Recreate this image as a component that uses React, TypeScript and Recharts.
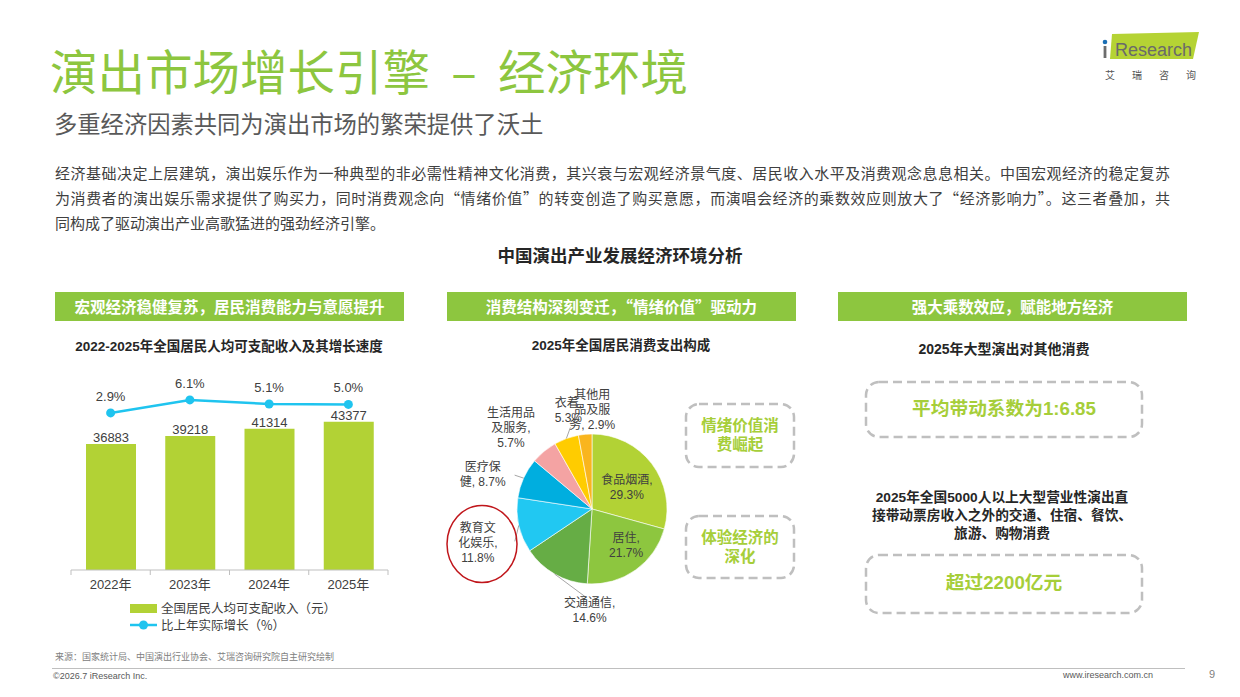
import React from 'react';
import { ComposedChart, Bar, Line, XAxis, YAxis, LabelList, PieChart, Pie, Cell } from 'recharts';

// left chart: per-capita disposable income and real growth
const YEARS = ['2022年', '2023年', '2024年', '2025年'];
const INCOME = [36883, 39218, 41314, 43377];
const GROWTH = [2.9, 6.1, 5.1, 5.0];

// middle chart: consumption spending structure 2025
const SPEND_CATS = ['食品烟酒', '居住', '交通通信', '教育文化娱乐', '医疗保健', '生活用品及服务', '衣着', '其他用品及服务'];
const SPEND_SHARE = [29.3, 21.7, 14.6, 11.8, 8.7, 5.7, 5.3, 2.9];
const SPEND_COLORS = ['#B2D235', '#8DC63F', '#66AD45', '#21C8F2', '#00AEDF', '#F4A3A3', '#FFCC00', '#F9B51E'];

const incomeData = YEARS.map((year, i) => ({ year, income: INCOME[i], growth: GROWTH[i] }));
const spendData = SPEND_CATS.map((name, i) => ({ name, value: SPEND_SHARE[i] }));

const CJK = '"Noto Sans CJK SC", sans-serif';
const MIX = '"Liberation Sans", Arial, "Noto Sans CJK SC", sans-serif';
const GREEN = '#8DC63F';
const LIME = '#A6CE39';
const TEXT = '#404040';

const BAR_CHART_W = 400;
const BAR_MARGIN = { top: 10, right: 42, bottom: 0, left: 41 };
const BAND = (BAR_CHART_W - BAR_MARGIN.left - BAR_MARGIN.right) / YEARS.length;

// label placement for the pie (offsets from the slice's outer edge)
const RAD = Math.PI / 180;
const PIE_LABELS: { r: number; dx: number; dy: number; breaks: number[]; lead?: number[] }[] = [
  { r: 0.55, dx: 2, dy: 3, breaks: [5] },
  { r: 0.6, dx: 8, dy: 0, breaks: [3] },
  { r: 1, dx: 35, dy: 36, breaks: [5], lead: [-4, -13] },
  { r: 1, dx: -41, dy: 18, breaks: [3, 7], lead: [37, -2] },
  { r: 1, dx: -41, dy: -4, breaks: [3], lead: [32, 1] },
  { r: 1, dx: -33, dy: -23, breaks: [4, 8] },
  { r: 1, dx: 2, dy: -28, breaks: [3], lead: [2, 17] },
  { r: 1, dx: 7, dy: -24, breaks: [3, 6] },
];

function renderPieLabel(props: any) {
  const { cx, cy, midAngle, outerRadius, index, name, value } = props;
  const cfg = PIE_LABELS[index];
  const ax = cx + outerRadius * cfg.r * Math.cos(-midAngle * RAD);
  const ay = cy + outerRadius * cfg.r * Math.sin(-midAngle * RAD);
  const lx = ax + cfg.dx;
  const ly = ay + cfg.dy;
  const full = `${name}, ${Number(value).toFixed(1)}%`;
  const cuts = [0, ...cfg.breaks, full.length];
  const lines = cuts.slice(0, -1).map((c, k) => full.slice(c, cuts[k + 1]).trim());
  const lh = 15;
  const top = ly - ((lines.length - 1) * lh) / 2;
  return (
    <g>
      {cfg.lead && (
        <line x1={ax} y1={ay} x2={lx + cfg.lead[0]} y2={ly + cfg.lead[1]} stroke="#A6A6A6" strokeWidth={1} />
      )}
      {lines.map((t, k) => (
        <text key={k} x={lx} y={top + k * lh} textAnchor="middle" dominantBaseline="central"
          fontSize={12} fill={TEXT} fontFamily={MIX}>{t}</text>
      ))}
    </g>
  );
}

function YearTick(props: any) {
  const { x, y, payload, index } = props;
  return (
    <g>
      <line x1={x - BAND / 2} y1={y} x2={x - BAND / 2} y2={y + 5} stroke="#BFBFBF" />
      {index === YEARS.length - 1 && <line x1={x + BAND / 2} y1={y} x2={x + BAND / 2} y2={y + 5} stroke="#BFBFBF" />}
      <text x={x} y={y + 19} textAnchor="middle" fontSize={13} fill={TEXT} fontFamily={MIX}>{payload.value}</text>
    </g>
  );
}

function at(left: number, top: number, extra: React.CSSProperties = {}): React.CSSProperties {
  return { position: 'absolute', left, top, whiteSpace: 'nowrap', ...extra };
}

function DashBox({ x, y, w, h }: { x: number; y: number; w: number; h: number }) {
  return (
    <svg style={{ position: 'absolute', left: x - 2, top: y - 2 }} width={w + 4} height={h + 4}>
      <rect x={2} y={2} width={w} height={h} rx={13} fill="none" stroke="#BFBFBF" strokeWidth={2.5} strokeDasharray="9 5" />
    </svg>
  );
}

function HeaderBar({ x, text }: { x: number; text: string }) {
  return (
    <div style={at(x, 292, { width: 349, height: 29, background: GREEN, color: '#fff', fontFamily: CJK, fontWeight: 700,
      fontSize: 15.5, lineHeight: '29px', textAlign: 'center' })}>{text}</div>
  );
}

const PARA = [
  '经济基础决定上层建筑，演出娱乐作为一种典型的非必需性精神文化消费，其兴衰与宏观经济景气度、居民收入水平及消费观念息息相关。中国宏观经济的稳定复苏',
  '为消费者的演出娱乐需求提供了购买力，同时消费观念向“情绪价值”的转变创造了购买意愿，而演唱会经济的乘数效应则放大了“经济影响力”。这三者叠加，共',
  '同构成了驱动演出产业高歌猛进的强劲经济引擎。',
];

export default function App() {
  return (
    <div style={{ position: 'absolute', left: 0, top: 0, width: 1240, height: 697, background: '#fff', overflow: 'hidden', fontFamily: CJK }}>
      {/* title block */}
      <div style={at(50, 44, { fontSize: 47.5, lineHeight: '52px', color: GREEN, fontFamily: CJK })}>
        演出市场增长引擎{'\u00a0\u00a0–\u00a0\u00a0'}经济环境
      </div>
      <div style={at(54, 109, { fontSize: 23.3, lineHeight: '28px', color: '#595959' })}>多重经济因素共同为演出市场的繁荣提供了沃土</div>

      {/* logo */}
      <svg style={{ position: 'absolute', left: 1095, top: 28 }} width={140} height={56}>
        <polygon points="17,6 104,4 98,31 15,31" fill="#B5D334" />
        <circle cx={10} cy={14} r={2.3} fill="#1B6FB5" />
        <rect x={8.6} y={18} width={2.8} height={12} fill="#6d6d6d" />
        <text x={20} y={28} fontSize={18} fill="#6a6a6a" fontFamily={MIX}>Research</text>
        <text x={10} y={51} fontSize={10} fill="#555" fontFamily={CJK} letterSpacing={17}>艾瑞咨询</text>
      </svg>

      {/* intro paragraph */}
      {PARA.map((line, i) => (
        <div key={i} style={at(55, 159.5 + i * 25, { width: 1115, fontSize: 15, lineHeight: '25px', color: TEXT,
          textAlign: 'justify', textAlignLast: i < 2 ? 'justify' : 'left' })}>{line}</div>
      ))}

      <div style={at(420, 243, { width: 400, textAlign: 'center', fontSize: 17.5, lineHeight: '24px', fontWeight: 700, color: '#262626' })}>
        中国演出产业发展经济环境分析
      </div>

      <HeaderBar x={55} text="宏观经济稳健复苏，居民消费能力与意愿提升" />
      <HeaderBar x={447} text="消费结构深刻变迁，“情绪价值”驱动力" />
      <HeaderBar x={838} text="强大乘数效应，赋能地方经济" />

      {/* left panel */}
      <div style={at(29, 337, { width: 400, textAlign: 'center', fontSize: 13.5, lineHeight: '20px', fontWeight: 700, color: '#262626', fontFamily: MIX })}>
        2022-2025年全国居民人均可支配收入及其增长速度
      </div>
      <div style={{ position: 'absolute', left: 30, top: 355 }}>
        <ComposedChart width={BAR_CHART_W} height={245} data={incomeData} margin={BAR_MARGIN}>
          <XAxis dataKey="year" height={30} tickLine={false} tickSize={0} tickMargin={0} stroke="#BFBFBF"
            tick={<YearTick />} interval={0} />
          <YAxis yAxisId="l" domain={[0, 60000]} hide />
          <YAxis yAxisId="r" orientation="right" domain={[-35.8, 14.7]} hide />
          <Bar yAxisId="l" dataKey="income" fill="#B2D235" barSize={50} isAnimationActive={false}>
            <LabelList dataKey="income" position="top" offset={2} fontSize={13} fill={TEXT} fontFamily={MIX} />
          </Bar>
          <Line yAxisId="r" dataKey="growth" stroke="#1FC4EF" strokeWidth={2.5} isAnimationActive={false}
            dot={{ r: 4.5, fill: '#1FC4EF', stroke: '#1FC4EF', strokeWidth: 0 }}>
            <LabelList dataKey="growth" position="top" offset={12} fontSize={13} fill={TEXT} fontFamily={MIX}
              formatter={(v: any) => `${Number(v).toFixed(1)}%`} />
          </Line>
        </ComposedChart>
      </div>
      {/* legend */}
      <svg style={{ position: 'absolute', left: 128, top: 600 }} width={32} height={32}>
        <rect x={2} y={4} width={27} height={9} fill="#B2D235" />
        <line x1={2} y1={25} x2={29} y2={25} stroke="#1FC4EF" strokeWidth={2.5} />
        <circle cx={15.5} cy={25} r={4.5} fill="#1FC4EF" />
      </svg>
      <div style={at(161, 599, { fontSize: 12.5, lineHeight: '18px', color: TEXT })}>全国居民人均可支配收入（元）</div>
      <div style={at(161, 616, { fontSize: 12.5, lineHeight: '18px', color: TEXT })}>比上年实际增长（%）</div>

      {/* middle panel */}
      <div style={at(421, 336, { width: 400, textAlign: 'center', fontSize: 13.5, lineHeight: '20px', fontWeight: 700, color: '#262626', fontFamily: MIX })}>
        2025年全国居民消费支出构成
      </div>
      <div style={{ position: 'absolute', left: 430, top: 380 }}>
        <PieChart width={250} height={250} margin={{ top: 0, right: 0, bottom: 0, left: 0 }}>
          <Pie data={spendData} dataKey="value" nameKey="name" cx={162} cy={129} outerRadius={75}
            startAngle={90} endAngle={-270} stroke="#fff" strokeWidth={0.6} label={renderPieLabel}
            labelLine={false} isAnimationActive={false}>
            {spendData.map((d, i) => <Cell key={d.name} fill={SPEND_COLORS[i]} />)}
          </Pie>
        </PieChart>
      </div>
      <svg style={{ position: 'absolute', left: 440, top: 500, pointerEvents: 'none' }} width={90} height={90}>
        <ellipse cx={42} cy={44} rx={35} ry={38.5} fill="none" stroke="#C0161B" strokeWidth={1.5} />
      </svg>

      <DashBox x={686} y={404} w={108} h={63} />
      <div style={at(686, 415, { width: 108, textAlign: 'center', fontSize: 15.5, lineHeight: '19px', fontWeight: 700, color: LIME })}>
        情绪价值消<br />费崛起
      </div>
      <DashBox x={686} y={516} w={108} h={62} />
      <div style={at(686, 527, { width: 108, textAlign: 'center', fontSize: 15.5, lineHeight: '19px', fontWeight: 700, color: LIME })}>
        体验经济的<br />深化
      </div>

      {/* right panel */}
      <div style={at(804, 339, { width: 400, textAlign: 'center', fontSize: 14, lineHeight: '20px', fontWeight: 700, color: '#262626', fontFamily: MIX })}>
        2025年大型演出对其他消费
      </div>
      <DashBox x={866} y={382} w={276} h={55} />
      <div style={at(866, 396, { width: 276, textAlign: 'center', fontSize: 18.7, lineHeight: '26px', fontWeight: 700, color: LIME, fontFamily: MIX })}>
        平均带动系数为1:6.85
      </div>
      <div style={at(802, 489, { width: 400, textAlign: 'center', fontSize: 13.7, lineHeight: '18px', fontWeight: 700, color: '#262626', fontFamily: MIX })}>
        2025年全国5000人以上大型营业性演出直<br />接带动票房收入之外的交通、住宿、餐饮、<br />旅游、购物消费
      </div>
      <DashBox x={866} y={555} w={276} h={58} />
      <div style={at(866, 570, { width: 276, textAlign: 'center', fontSize: 18.7, lineHeight: '26px', fontWeight: 700, color: LIME, fontFamily: MIX })}>
        超过2200亿元
      </div>

      {/* footer */}
      <div style={at(55, 650, { fontSize: 9, lineHeight: '14px', color: '#808080' })}>来源：国家统计局、中国演出行业协会、艾瑞咨询研究院自主研究绘制</div>
      <div style={at(52, 668, { width: 1133, height: 1, background: '#BFBFBF' })} />
      <div style={at(53, 670, { fontSize: 9, lineHeight: '13px', color: '#595959', fontFamily: MIX })}>©2026.7 iResearch Inc.</div>
      <div style={at(1063, 669, { fontSize: 9, lineHeight: '13px', color: '#595959', fontFamily: MIX })}>www.iresearch.com.cn</div>
      <div style={at(1209, 667, { fontSize: 11, lineHeight: '15px', color: '#7F7F7F', fontFamily: MIX })}>9</div>
    </div>
  );
}
